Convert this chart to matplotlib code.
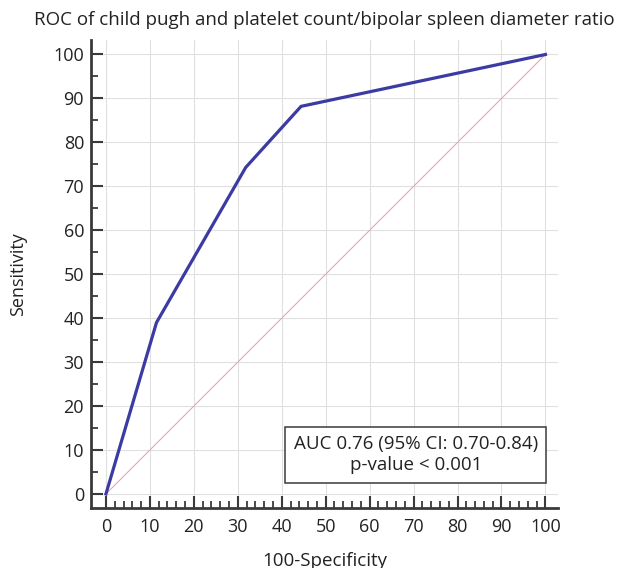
import matplotlib.pyplot as plt

# ROC curve values (100-specificity, sensitivity)
fpr = [0, 11.5, 31.8, 44.4, 100]
tpr = [0, 39.0, 74.3, 88.2, 100]
ref_line = [0, 100]
ticks = list(range(0, 101, 10))
auc_text = "AUC 0.76 (95% CI: 0.70-0.84)\np-value < 0.001"

plt.rcParams['font.family'] = ['Open Sans', 'DejaVu Sans']
txt_col = '#222222'

fig = plt.figure(figsize=(6.25, 5.68), dpi=100)
ax = fig.add_axes([0.1456, 0.1056, 0.7475, 0.824])

# diagonal reference line and ROC curve
ax.plot(ref_line, ref_line, color='#e4a6b6', lw=0.8, zorder=2)
ax.plot(fpr, tpr, color='#3b3ba3', lw=2.3, zorder=3, solid_joinstyle='miter')

ax.set_xlim(-3.4, 102.9)
ax.set_ylim(-3.2, 103.3)
ax.set_xticks(ticks)
ax.set_yticks(ticks)
ax.set_xticks(range(0, 101, 2), minor=True)
ax.set_yticks(range(0, 101, 5), minor=True)
ax.grid(True, which='major', color='#e0e0e0', lw=0.8, zorder=0)

for side in ['top', 'right']:
    ax.spines[side].set_visible(False)
for side in ['left', 'bottom']:
    ax.spines[side].set_color('#3a3a3a')
    ax.spines[side].set_linewidth(2.0)

ax.tick_params(which='major', direction='in', length=8.6, width=1.5,
               color='#3a3a3a', labelsize=13, labelcolor=txt_col)
ax.tick_params(which='minor', direction='in', length=5, width=1.3, color='#3a3a3a')
ax.tick_params(axis='y', which='major', pad=5)
ax.tick_params(axis='x', which='major', pad=7)

ax.set_title('ROC of child pugh and platelet count/bipolar spleen diameter ratio',
             fontsize=13.5, color=txt_col, pad=11)
ax.set_xlabel('100-Specificity', fontsize=13.5, color=txt_col)
ax.set_ylabel('Sensitivity', fontsize=13, color=txt_col)
ax.xaxis.set_label_coords(0.5, -0.093)
ax.yaxis.set_label_coords(-0.137, 0.5)

ax.text(70.5, 8.9, auc_text, ha='center', va='center', fontsize=13.5,
        color=txt_col, linespacing=1.2, zorder=5,
        bbox=dict(boxstyle='square,pad=0.45', fc='white', ec='#3a3a3a', lw=1.1))

fig.savefig('out.png', dpi=100)
